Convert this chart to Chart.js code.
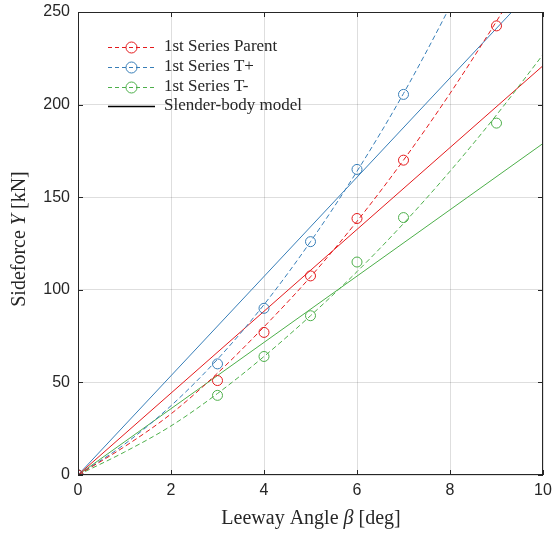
<!DOCTYPE html>
<html>
<head>
<meta charset="utf-8">
<script src="https://cdn.jsdelivr.net/npm/chart.js@4"></script>
<style>
  html, body { margin: 0; padding: 0; background: #fff; }
  #wrap { width: 552px; height: 534px; }
</style>
</head>
<body>
<div id="wrap"><canvas id="chart" width="552" height="534"></canvas></div>
<script>
// measured points
const angles = [0, 3, 4, 5, 6, 7, 9]
const parentY = [0, 51, 77, 107.5, 138.5, 170, 242.5]
const tPlusAngles = [0, 3, 4, 5, 6, 7]
const tPlusY = [0, 60, 90, 126, 165, 205.5]
const tMinusY = [0, 43, 64, 86, 115, 139, 190]

// dashed fit curves
const fitAngles = [0, 1, 2, 3, 4, 5, 6, 7, 8, 9, 10]
const parentFit = [0, 15.3, 33, 55, 80, 107, 137, 170, 206, 245, 286]
const tPlusFit = [0, 16.6, 37.4, 62.5, 92, 126, 164, 206, 253, 304, 360]
const tMinusFit = [0, 12.4, 26.5, 44, 64, 86, 109.8, 135.8, 164, 194.4, 227]

// slender-body model
const modelAngles = [0, 10]
const parentModel = [0, 221]
const tPlusModel = [0, 268]
const tMinusModel = [0, 179]

const xTicks = [0, 2, 4, 6, 8, 10]
const yTicks = [0, 50, 100, 150, 200, 250]

const RED = "#e41a1c"
const BLUE = "#377eb8"
const GREEN = "#4daf4a"
const AXIS = "#262626"

const legendItems = [
    {label: "1st Series Parent", color: RED, marker: true},
    {label: "1st Series T+", color: BLUE, marker: true},
    {label: "1st Series T-", color: GREEN, marker: true},
    {label: "Slender-body model", color: "#000", marker: false},
]

function pts(xs, ys){
    return ys.map((y, i) => ({x: xs[i], y: y}))
}

function markers(xs, ys, color){
    return {
        data: pts(xs, ys),
        showLine: false,
        pointStyle: "circle",
        pointRadius: 5,
        pointBorderWidth: 1,
        borderColor: color,
        backgroundColor: "rgba(0,0,0,0)",
    }
}

function curve(xs, ys, color, dashed){
    return {
        data: pts(xs, ys),
        showLine: true,
        pointRadius: 0,
        borderWidth: 1,
        borderColor: color,
        borderDash: dashed ? [5, 3] : [],
        cubicInterpolationMode: "monotone",
        fill: false,
    }
}

// box, inward ticks, axis titles, legend
const decorations = {
    id: "decorations",
    afterDraw(chart){
        const ctx = chart.ctx
        const a = chart.chartArea
        const xs = chart.scales.x
        const ys = chart.scales.y
        ctx.save()
        ctx.strokeStyle = AXIS
        ctx.lineWidth = 1
        ctx.strokeRect(a.left + 0.5, a.top + 0.5, a.right - a.left - 1, a.bottom - a.top - 1)
        ctx.beginPath()
        const t = 5
        xTicks.forEach((v) => {
            const px = Math.round(xs.getPixelForValue(v)) + 0.5
            ctx.moveTo(px, a.bottom); ctx.lineTo(px, a.bottom - t)
            ctx.moveTo(px, a.top); ctx.lineTo(px, a.top + t)
        })
        yTicks.forEach((v) => {
            const py = Math.round(ys.getPixelForValue(v)) + 0.5
            ctx.moveTo(a.left, py); ctx.lineTo(a.left + t, py)
            ctx.moveTo(a.right, py); ctx.lineTo(a.right - t, py)
        })
        ctx.stroke()

        // axis titles with italic symbols
        const serif = "'Liberation Serif', 'DejaVu Serif', serif"
        function mixed(parts, cx, cy, size){
            let w = 0
            parts.forEach((p) => {
                ctx.font = (p.italic ? "italic " : "") + size + "px " + serif
                p.w = ctx.measureText(p.text).width
                w += p.w
            })
            let x = cx - w / 2
            ctx.textBaseline = "middle"
            ctx.textAlign = "left"
            ctx.fillStyle = AXIS
            parts.forEach((p) => {
                ctx.font = (p.italic ? "italic " : "") + size + "px " + serif
                ctx.fillText(p.text, x, cy)
                x += p.w
            })
        }
        mixed([{text: "Leeway Angle "}, {text: "β", italic: true}, {text: " [deg]"}], 311, 519, 20)
        ctx.save()
        ctx.translate(20, 239)
        ctx.rotate(-Math.PI / 2)
        mixed([{text: "Sideforce "}, {text: "Y", italic: true}, {text: " [kN]"}], 0, 0, 20)
        ctx.restore()

        // legend
        const rows = [47, 67, 87, 106]
        legendItems.forEach((item, i) => {
            const y = rows[i] + 0.5
            ctx.strokeStyle = item.color
            ctx.lineWidth = item.marker ? 1 : 1.5
            ctx.setLineDash(item.marker ? [4, 3] : [])
            ctx.beginPath()
            ctx.moveTo(108, y); ctx.lineTo(155, y)
            ctx.stroke()
            ctx.setLineDash([])
            if(item.marker){
                ctx.lineWidth = 1
                ctx.beginPath()
                ctx.arc(131.5, y, 5.5, 0, Math.PI * 2)
                ctx.stroke()
            }
            ctx.font = "17px " + serif
            ctx.fillStyle = AXIS
            ctx.textAlign = "left"
            ctx.textBaseline = "middle"
            ctx.fillText(item.label, 164, rows[i])
        })
        ctx.restore()
    }
}

const tickFont = {family: "'Liberation Sans', Arial, sans-serif", size: 16}

new Chart(document.getElementById("chart").getContext("2d"), {
    type: "scatter",
    data: {
        datasets: [
            markers(angles, parentY, RED),
            markers(tPlusAngles, tPlusY, BLUE),
            markers(angles, tMinusY, GREEN),
            curve(fitAngles, parentFit, RED, true),
            curve(fitAngles, tPlusFit, BLUE, true),
            curve(fitAngles, tMinusFit, GREEN, true),
            curve(modelAngles, parentModel, RED, false),
            curve(modelAngles, tPlusModel, BLUE, false),
            curve(modelAngles, tMinusModel, GREEN, false),
        ],
    },
    options: {
        responsive: false,
        animation: false,
        events: [],
        layout: {padding: {left: 0, top: 12, right: 9, bottom: 0}},
        plugins: {legend: {display: false}, tooltip: {enabled: false}},
        scales: {
            x: {
                type: "linear",
                min: 0,
                max: 10,
                afterBuildTicks: (s) => { s.ticks = xTicks.map((v) => ({value: v})) },
                afterFit: (s) => { s.height = 59; s.paddingLeft = 0; s.paddingRight = 0 },
                ticks: {color: AXIS, padding: 6, font: tickFont},
                grid: {color: "rgba(0,0,0,0.13)", drawTicks: false},
                border: {display: false},
            },
            y: {
                type: "linear",
                min: 0,
                max: 250,
                afterBuildTicks: (s) => { s.ticks = yTicks.map((v) => ({value: v})) },
                afterFit: (s) => { s.width = 78; s.paddingTop = 0; s.paddingBottom = 0 },
                ticks: {color: AXIS, padding: 8, font: tickFont},
                grid: {color: "rgba(0,0,0,0.13)", drawTicks: false},
                border: {display: false},
            },
        },
    },
    plugins: [decorations],
})
</script>
</body>
</html>
